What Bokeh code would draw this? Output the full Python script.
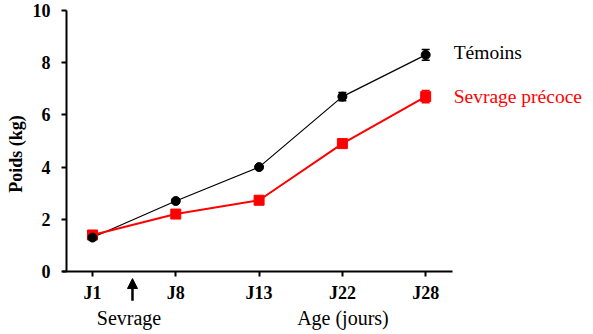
import math
from bokeh.plotting import figure
from bokeh.models import FixedTicker, Label, Arrow, NormalHead, Whisker, TeeHead, ColumnDataSource
from bokeh.embed import file_html
from bokeh.resources import INLINE

days = ["J1", "J8", "J13", "J22", "J28"]
temoins = [1.3, 2.7, 4.0, 6.7, 8.3]
temoins_err = [0.08, 0.08, 0.06, 0.16, 0.21]
precoce = [1.4, 2.2, 2.73, 4.9, 6.7]
precoce_err = [0.06, 0.1, 0.06, 0.15, 0.23]
yticks = [0, 2, 4, 6, 8, 10]

xs = list(range(len(days)))

p = figure(width=593, height=334, output_backend="svg", toolbar_location=None,
           x_range=(-1.1043, 6.0147), y_range=(-2.414, 10.383),
           min_border_left=0, min_border_right=0, min_border_top=0, min_border_bottom=0)
p.outline_line_color = None
p.xgrid.visible = False
p.ygrid.visible = False
p.background_fill_color = "white"

FONT = "'Liberation Serif', serif"

for ax in (p.xaxis[0], p.yaxis[0]):
    ax.axis_line_width = 2
    ax.axis_line_color = "black"
    ax.major_tick_line_width = 2
    ax.major_tick_line_color = "black"
    ax.major_tick_out = 5
    ax.major_tick_in = 0
    ax.minor_tick_line_color = None
    ax.major_label_text_font = FONT
    ax.major_label_text_font_style = "bold"
    ax.major_label_text_font_size = "18px"
    ax.major_label_text_color = "black"

p.xaxis.fixed_location = 0
p.xaxis.bounds = (-0.36, 4.32)
p.xaxis.ticker = FixedTicker(ticks=xs)
p.xaxis.major_label_overrides = {i: d for i, d in enumerate(days)}
p.xaxis.major_label_standoff = 7
p.yaxis.fixed_location = -0.312
p.yaxis.bounds = (0, 10)
p.yaxis.ticker = FixedTicker(ticks=yticks)
p.yaxis.major_label_standoff = 11

src_t = ColumnDataSource(dict(x=xs, y=temoins,
                              lo=[v - e for v, e in zip(temoins, temoins_err)],
                              hi=[v + e for v, e in zip(temoins, temoins_err)]))
src_p = ColumnDataSource(dict(x=xs, y=precoce,
                              lo=[v - e for v, e in zip(precoce, precoce_err)],
                              hi=[v + e for v, e in zip(precoce, precoce_err)]))

p.line("x", "y", source=src_t, line_color="black", line_width=1.2)
p.line("x", "y", source=src_p, line_color="#ff0000", line_width=2)

p.add_layout(Whisker(source=src_t, base="x", lower="lo", upper="hi", line_color="black", line_width=1.5,
                     upper_head=TeeHead(size=8, line_color="black", line_width=1.5),
                     lower_head=TeeHead(size=8, line_color="black", line_width=1.5)))
p.add_layout(Whisker(source=src_p, base="x", lower="lo", upper="hi", line_color="#ff0000", line_width=1.5,
                     upper_head=TeeHead(size=8, line_color="#ff0000", line_width=1.5),
                     lower_head=TeeHead(size=8, line_color="#ff0000", line_width=1.5)))

p.scatter("x", "y", source=src_p, marker="square", size=10, fill_color="#ff0000", line_color="#ff0000")
p.scatter("x", "y", source=src_t, marker="circle", size=9, fill_color="black", line_color="black")

p.add_layout(Label(x=4, y=temoins[-1], text="Témoins", text_font=FONT, text_font_size="19.5px",
                   text_color="black", text_baseline="middle", x_offset=28, y_offset=2))
p.add_layout(Label(x=4, y=precoce[-1], text="Sevrage précoce", text_font=FONT, text_font_size="19.5px",
                   text_color="#ff0000", text_baseline="middle", x_offset=28, y_offset=0))

p.add_layout(Label(x=-0.924, y=4.5, text="Poids (kg)", text_font=FONT, text_font_size="18px",
                   text_font_style="bold", text_color="black", angle=math.pi / 2,
                   text_align="center", text_baseline="middle"))

p.add_layout(Arrow(x_start=0.48, y_start=-1.12, x_end=0.48, y_end=-0.27, line_width=2.5, line_color="black",
                   end=NormalHead(size=10, fill_color="black", line_color="black")))
p.add_layout(Label(x=0.438, y=-1.8, text="Sevrage", text_font=FONT, text_font_size="20px",
                   text_color="black", text_align="center", text_baseline="middle"))
p.add_layout(Label(x=3.007, y=-1.8, text="Age (jours)", text_font=FONT, text_font_size="20px",
                   text_color="black", text_align="center", text_baseline="middle"))

open("out.html", "w").write(file_html(p, INLINE))
